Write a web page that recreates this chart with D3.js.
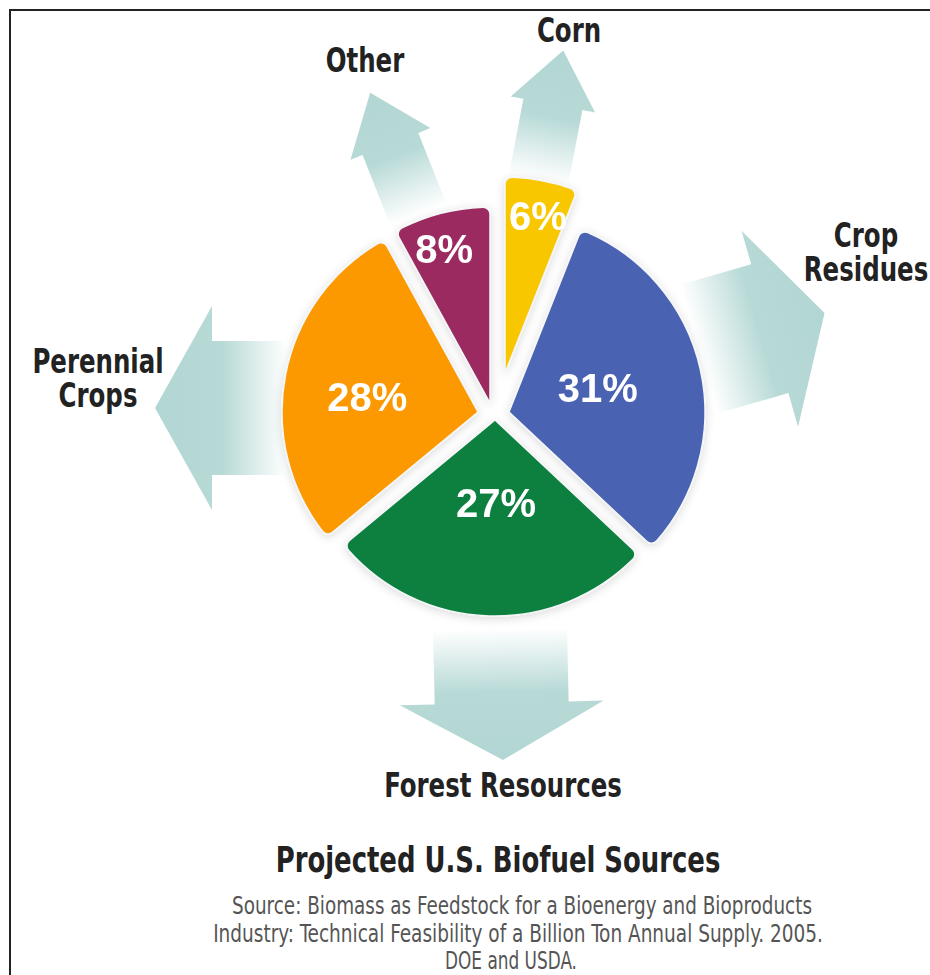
<!DOCTYPE html>
<html>
<head>
<meta charset="utf-8">
<script src="https://cdn.jsdelivr.net/npm/d3@7"></script>
<style>
  html, body { margin: 0; padding: 0; background: #fff; }
  svg { display: block; }
</style>
</head>
<body>
<svg id="chart"></svg>
<script>
'use strict';

//Slices, clockwise from twelve o'clock.
const categories = ['Corn', 'Crop Residues', 'Forest Resources', 'Perennial Crops', 'Other'];
const shares = [6, 31, 27, 28, 8];
//Arrow captions, one entry per line.
const captions = [['Corn'], ['Crop', 'Residues'], ['Forest Resources'], ['Perennial', 'Crops'], ['Other']];
const title = 'Projected U.S. Biofuel Sources';
const sourceLines = [
	'Source:  Biomass as Feedstock for a Bioenergy and Bioproducts',
	'Industry:  Technical Feasibility of a Billion Ton Annual Supply. 2005.',
	'DOE and USDA.'
];

const colors = ['#f8c700', '#4962b1', '#0c8040', '#fd9900', '#9b2c60'];

const width = 930;
const height = 975;
const cx = 495;
const cy = 408;
const R = 196;

//Layout per slice: shift away from the centre (x, y), label radius (fraction of R), label angle tweak (deg).
const shift = [[10, -35], [14, 4], [0, 12], [-17, 4], [-5, -5]];
const labelR = [0.82, 0.47, 0.42, 0.57, 0.82];
const labelTweak = [1, -3, -2.5, -3, -2.2];
//Arrows: direction (deg clockwise from north), distance of the tip from the centre, size.
const arrowAngle = [10.8, 73.9, 178.7, 270, 338.4];
const arrowDist = [364, 343, 352, 340, 339];
const arrowSize = ['small', 'big', 'big', 'big', 'small'];
const arrowDims = {
	big: {headW: 204, headL: 57, shaftW: 134, shaftL: 74},
	small: {headW: 86, headL: 55, shaftW: 60, shaftL: 76}
};
//Caption anchor (centre x, first baseline y).
const captionPos = [[569, 42], [866, 247], [503, 797], [98, 373], [365, 72]];
//Condensed look for the caption font.
const squeeze = 0.8;

const rad = (deg) => deg * Math.PI / 180;
const polar = (r, a) => [r * Math.sin(a), -r * Math.cos(a)];

const svg = d3.select('#chart')
	.attr('width', width)
	.attr('height', height)
	.style('font-family', '"DejaVu Sans Condensed", "Liberation Sans Narrow", sans-serif');

const defs = svg.append('defs');

//Soft halo around the pie.
const glow = defs.append('filter')
	.attr('id', 'glow')
	.attr('x', '-20%').attr('y', '-20%')
	.attr('width', '140%').attr('height', '140%');
glow.append('feDropShadow')
	.attr('dx', 0).attr('dy', 2)
	.attr('stdDeviation', 5)
	.attr('flood-color', '#000')
	.attr('flood-opacity', 0.15);

//Arrow fade: transparent at the tail, solid towards the tip.
const grad = defs.append('linearGradient')
	.attr('id', 'arrowFade')
	.attr('x1', 0).attr('y1', 1)
	.attr('x2', 0).attr('y2', 0);
grad.append('stop').attr('offset', '0%').attr('stop-color', '#b4d8d5').attr('stop-opacity', 0);
grad.append('stop').attr('offset', '15%').attr('stop-color', '#b4d8d5').attr('stop-opacity', 0.3);
grad.append('stop').attr('offset', '48%').attr('stop-color', '#b4d8d5').attr('stop-opacity', 0.95);
grad.append('stop').attr('offset', '100%').attr('stop-color', '#b2d6d3').attr('stop-opacity', 1);

svg.append('rect')
	.attr('width', width)
	.attr('height', height)
	.attr('fill', '#fff');

//Frame; right and bottom edges fall outside the picture.
svg.append('rect')
	.attr('x', 10).attr('y', 10)
	.attr('width', width + 20)
	.attr('height', height + 20)
	.attr('fill', 'none')
	.attr('stroke', '#222')
	.attr('stroke-width', 2);

//Arrows, drawn pointing up with the tip at the origin, then rotated.
function arrowPath(s) {
	const d = arrowDims[s];
	const hw = d.headW / 2;
	const sw = d.shaftW / 2;
	const base = d.headL;
	const tail = d.headL + d.shaftL;
	return `M0,0 L${hw},${base} L${sw},${base} L${sw},${tail} L${-sw},${tail} L${-sw},${base} L${-hw},${base} Z`;
}

svg.append('g')
	.selectAll('path')
	.data(categories)
	.enter()
	.append('path')
	.attr('d', (d, i) => arrowPath(arrowSize[i]))
	.attr('fill', 'url(#arrowFade)')
	.attr('transform', (d, i) => {
		const p = polar(arrowDist[i], rad(arrowAngle[i]));
		return `translate(${cx + p[0]},${cy + p[1]}) rotate(${arrowAngle[i]})`;
	});

//Pie.
const pie = d3.pie().sort(null).value((d) => d);
const arcs = pie(shares);
const arc = d3.arc().innerRadius(0).outerRadius(R).cornerRadius(7);

const slices = svg.append('g')
	.attr('filter', 'url(#glow)')
	.selectAll('g')
	.data(arcs)
	.enter()
	.append('g')
	.attr('transform', (d, i) => `translate(${cx + shift[i][0]},${cy + shift[i][1]})`);

slices.append('path')
	.attr('d', arc)
	.attr('fill', (d, i) => colors[i])
	.attr('stroke', '#f4f6f8')
	.attr('stroke-width', 1.5);

slices.append('text')
	.attr('transform', (d, i) => {
		const mid = (d.startAngle + d.endAngle) / 2 + rad(labelTweak[i]);
		const p = polar(labelR[i] * R, mid);
		return `translate(${p[0]},${p[1]})`;
	})
	.attr('text-anchor', 'middle')
	.attr('dy', '0.36em')
	.style('font-family', '"Liberation Sans", Arial, sans-serif')
	.style('font-weight', 'bold')
	.style('font-size', '40px')
	.attr('fill', '#fff')
	.text((d) => d.data + '%');

//Captions beside the arrows.
const cap = svg.append('g')
	.selectAll('text')
	.data(captions)
	.enter()
	.append('text')
	.attr('transform', (d, i) => `translate(${captionPos[i][0]},${captionPos[i][1]}) scale(${squeeze},1)`)
	.attr('text-anchor', 'middle')
	.style('font-weight', 'bold')
	.style('font-size', '34px')
	.attr('fill', '#222');
cap.selectAll('tspan')
	.data((d) => d)
	.enter()
	.append('tspan')
	.attr('x', 0)
	.attr('dy', (d, i) => i === 0 ? 0 : 34)
	.text((d) => d);

//Title and source note.
svg.append('text')
	.attr('transform', `translate(498,872) scale(${squeeze},1)`)
	.attr('text-anchor', 'middle')
	.style('font-weight', 'bold')
	.style('font-size', '36px')
	.attr('fill', '#222')
	.text(title);

//Source lines: squeeze each one horizontally to the width it has in the original.
const sourceMid = [522, 518, 511];
const sourceW = [580, 610, 132];
svg.append('g')
	.selectAll('text')
	.data(sourceLines)
	.enter()
	.append('text')
	.attr('text-anchor', 'middle')
	.style('font-size', '25px')
	.attr('fill', '#555')
	.text((d) => d)
	.attr('transform', function(d, i) {
		const k = sourceW[i] / this.getComputedTextLength();
		return `translate(${sourceMid[i]},${914 + i * 27.5}) scale(${k},1)`;
	});
</script>
</body>
</html>
